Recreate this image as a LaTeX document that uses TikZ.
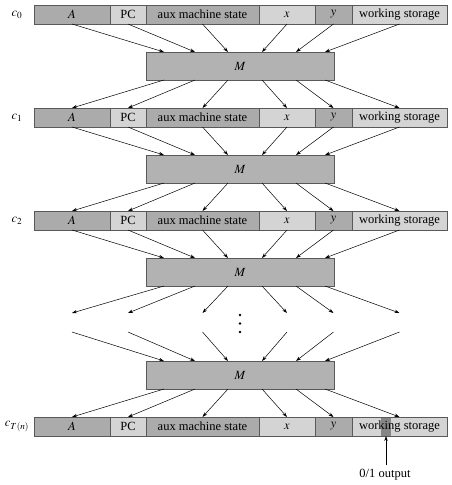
\documentclass[tikz,border=0pt]{standalone}
\usepackage{mathptmx}
\usepackage{fontspec}
\setmainfont{Liberation Serif}
\usetikzlibrary{positioning, arrows.meta}

\begin{document}
\begin{tikzpicture}[x=1pt, y=-1pt,
    seg/.style={rectangle, draw=black!65, outer sep=0pt, inner sep=0pt,
      minimum height=19pt, font=\fontsize{12.5}{14}\selectfont},
    dark/.style={seg, fill=black!33},
    light/.style={seg, fill=black!17},
    outcell/.style={light, path picture={
      \fill[black!48] ([xshift=29pt]path picture bounding box.south west)
        rectangle ([xshift=39pt]path picture bounding box.north west);}},
    mbox/.style={rectangle, draw=black!65, fill=black!30, outer sep=0pt,
      minimum width=188pt, minimum height=28pt, font=\fontsize{12.5}{14}\selectfont},
    flow/.style={-{Stealth[length=5pt, width=3.4pt]}, line width=0.5pt}]
  \useasboundingbox (0,0) rectangle (452,485);

  % configuration rows
  \foreach \r/\yy/\lab/\ws in {0/14.5/c_0/light, 1/117.5/c_1/light,
      2/220.5/c_2/light, 4/426.5/c_{T(n)}/outcell} {
    \node[dark, minimum width=76pt, anchor=west] (r\r-1) at (34,\yy) {$A$};
    \node[light, minimum width=36pt, right=0pt of r\r-1] (r\r-2) {PC};
    \node[dark, minimum width=113pt, right=0pt of r\r-2] (r\r-3) {aux machine state};
    \node[light, minimum width=56pt, right=0pt of r\r-3] (r\r-4) {$x$};
    \node[dark, minimum width=37pt, right=0pt of r\r-4] (r\r-5) {$y$};
    \node[\ws, minimum width=95pt, right=0pt of r\r-5] (r\r-6) {working storage};
    \node[font=\fontsize{12.5}{14}\selectfont] (lab\r) at (17,\yy) {$\lab$};
  }

  % machine M
  \foreach \m/\yy in {0/66, 1/169, 2/272, 3/375}
    \node[mbox] (M\m) at (240,\yy) {$M$};

  % gap between c_2 and c_{T(n)}
  \foreach \i in {1,...,6} {
    \coordinate (gn-\i) at (r2-\i |- 0,313);
    \coordinate (gs-\i) at (r2-\i |- 0,332);
  }
  \fill (240,315) circle[radius=1.4pt];
  \fill (240,323.5) circle[radius=1.4pt];
  \fill (240,332) circle[radius=1.4pt];

  % transitions
  \foreach \i/\dx in {1/18, 2/49, 3/82, 4/116, 5/150, 6/179} {
    \foreach \m/\n in {0/1, 1/2} {
      \draw[flow] (r\m-\i.south) -- ([xshift=\dx pt]M\m.north west);
      \draw[flow] ([xshift=\dx pt]M\m.south west) -- (r\n-\i.north);
    }
    \draw[flow] (r2-\i.south) -- ([xshift=\dx pt]M2.north west);
    \draw[flow] ([xshift=\dx pt]M2.south west) -- (gn-\i);
    \draw[flow] (gs-\i) -- ([xshift=\dx pt]M3.north west);
    \draw[flow] ([xshift=\dx pt]M3.south west) -- (r4-\i.north);
  }

  % output bit
  \node[font=\fontsize{12.5}{14}\selectfont, anchor=base] (out) at (385,477) {0/1 output};
  \coordinate (outpt) at ([xshift=34pt]r4-6.south west);
  \draw[flow] (out.north -| outpt) -- (outpt);
\end{tikzpicture}
\end{document}
